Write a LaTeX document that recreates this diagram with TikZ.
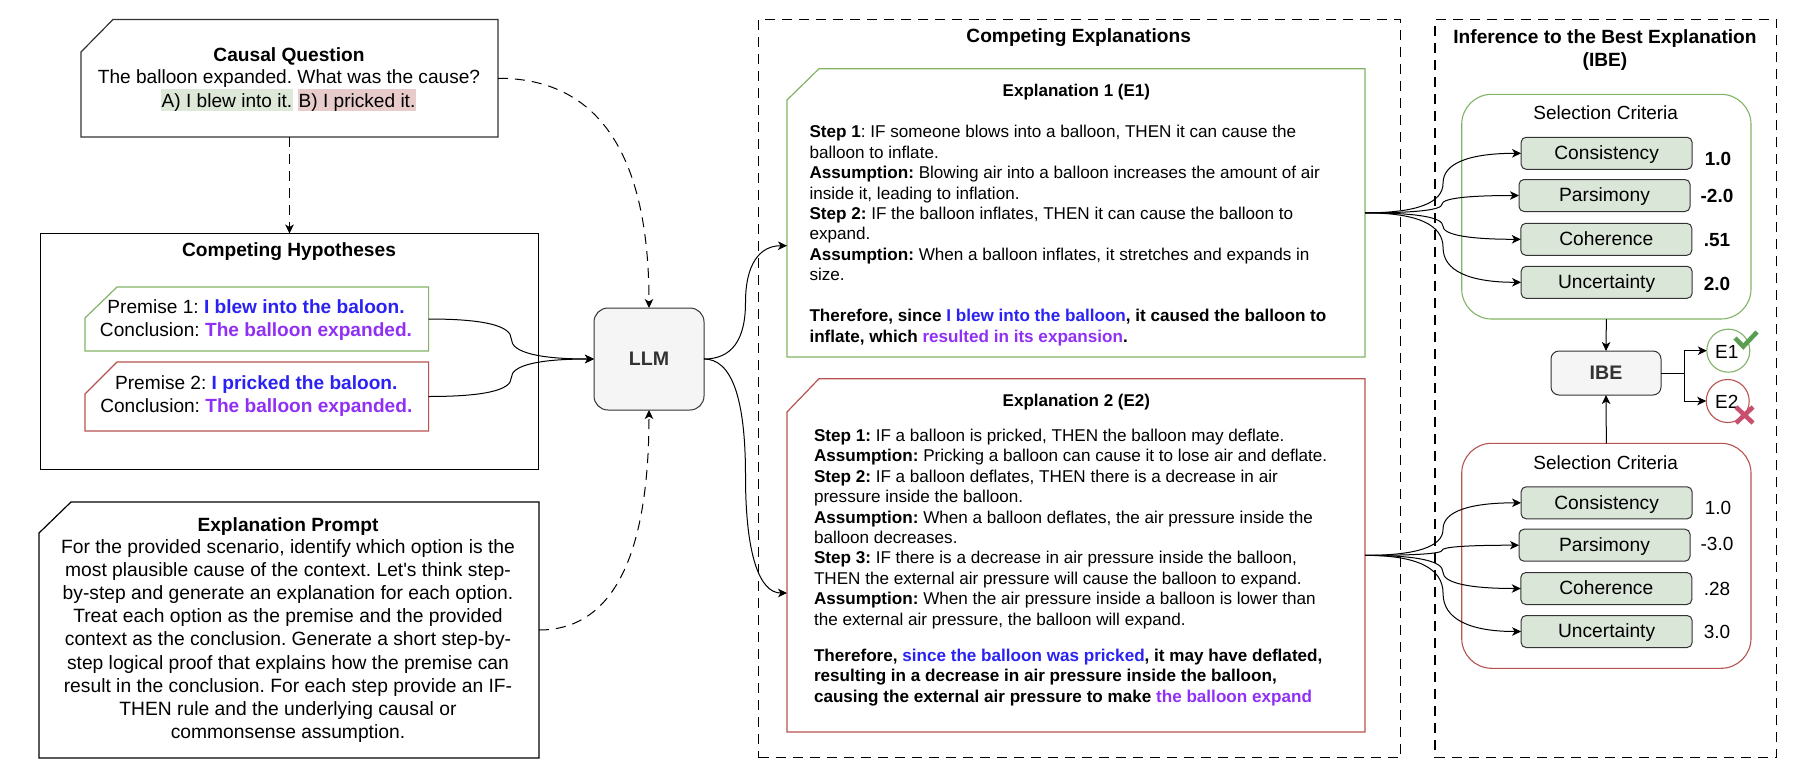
\documentclass[tikz,border=0pt]{standalone}
\usepackage{fontspec}
\setmainfont{Liberation Sans}
\usetikzlibrary{arrows.meta,calc}
\definecolor{gline}{HTML}{82B366}
\definecolor{rline}{HTML}{B85450}
\definecolor{gfill}{HTML}{DAE6D8}
\definecolor{hlg}{HTML}{DDE8D8}
\definecolor{hlr}{HTML}{E8CCCC}
\definecolor{blu}{HTML}{2A22F2}
\definecolor{pur}{HTML}{9030F5}
\definecolor{okc}{HTML}{5A9E4F}
\definecolor{noc}{HTML}{C8506E}
\newcommand{\blt}[1]{\textcolor{blu}{#1}}
\newcommand{\pst}[1]{\textcolor{pur}{#1}}
\tikzset{
  x=1pt,y=-1pt,
  every node/.style={inner sep=0pt,outer sep=0pt,text=black},
  tip/.style={-{Stealth[length=9pt,width=8.5pt,inset=2.5pt]}},
  conn/.style={tip,draw=black,line width=1pt},
  dashconn/.style={conn,dash pattern=on 10pt off 7pt},
  framebox/.style={draw=black,line width=1.3pt,dash pattern=on 10pt off 7pt},
  txt/.style={font=\fontsize{19.1}{23}\selectfont,align=center},
  ttl/.style={font=\fontsize{19.15}{23}\selectfont\bfseries,align=center},
  subt/.style={font=\fontsize{17}{20.4}\selectfont\bfseries,align=center},
  body/.style={font=\fontsize{17.1}{20.4}\selectfont,align=left,anchor=north west},
  crit/.style={draw=black!80,fill=gfill,rounded corners=5pt,line width=1pt,minimum width=171pt,minimum height=32pt,text height=15pt,text depth=2.5pt,font=\fontsize{19.2}{23}\selectfont},
  critbox/.style={draw=#1,line width=1.1pt,rounded corners=30pt},
  val/.style={font=\fontsize{19}{23}\selectfont},
  valb/.style={font=\fontsize{19}{23}\selectfont\bfseries},
  hl/.style={fill=#1,font=\fontsize{19.1}{23}\selectfont,text height=18.4pt,text depth=3pt},
  graybox/.style={draw=black!80,fill=black!4,line width=1pt,rounded corners=#1,font=\fontsize{19.6}{23}\selectfont\bfseries,text=black!80}
}
% name, x1,y1,x2,y2, options
\newcommand{\boxnode}[6]{%
  \pgfmathsetmacro\bw{#4-#2}\pgfmathsetmacro\bh{#5-#3}%
  \pgfmathsetmacro\bx{(#2+#4)/2}\pgfmathsetmacro\by{(#3+#5)/2}%
  \node[minimum width=\bw pt,minimum height=\bh pt,#6] (#1) at (\bx,\by) {};
}
% name, x1,y1,x2,y2, cutx,cuty, stroke
\newcommand{\cutbox}[8]{%
  \boxnode{#1}{#2}{#3}{#4}{#5}{}
  \draw[#8,line width=1.2pt,line join=miter] (#2,#7) -- (#6,#3) -- (#4,#3) -- (#4,#5) -- (#2,#5) -- cycle;
}
% true quadratic segment, from #1 to #3 with control point #2
\newcommand{\quadpart}[3]{.. controls ($(#1)!.667!(#2)$) and ($(#3)!.667!(#2)$) .. (#3)}
% draw.io curved connector through a mid point
\newcommand{\curvelink}[2]{%
  \coordinate (mm) at ($(#1)!.5!(#2)$);
  \coordinate (qa) at (mm|-#1);
  \coordinate (qb) at (mm|-#2);
  \draw[conn] (#1) \quadpart{#1}{qa}{mm} \quadpart{mm}{qb}{#2};
}
\begin{document}
\frenchspacing
\begin{tikzpicture}
\useasboundingbox (0,0) rectangle (1796,782);
\fill[white] (0,0) rectangle (1796,782);

% frames
\boxnode{ceframe}{758.6}{19.5}{1400.7}{757.7}{framebox}
\boxnode{ibeframe}{1435}{19.5}{1776.7}{757.7}{framebox}

% left column
\cutbox{cq}{81}{19.5}{498}{137}{113}{52}{black!80}
\node[ttl] (cqt) at (289,56) {Causal Question};
\node[txt] (cql) at (289,79) {The balloon expanded. What was the cause?};
\node[hl=hlg,minimum width=132pt] (cqa) at (227,100) {A) I blew into it.};
\node[hl=hlr,minimum width=118pt] (cqb) at (357,100) {B) I pricked it.};

\boxnode{ch}{40.5}{233.5}{538.5}{469.5}{draw=black,line width=1.2pt}
\node[ttl] (cht) at (289,252) {Competing Hypotheses};
\cutbox{p1}{85}{287}{428.6}{351}{117}{318}{gline}
\cutbox{p2}{85}{362}{428.6}{431}{117}{394}{rline}
\node[txt] (p1t) at (256,320) {Premise 1: \textbf{\blt{I blew into the baloon.}}\\Conclusion: \textbf{\pst{The balloon expanded.}}};
\node[txt] (p2t) at (256.3,396.5) {Premise 2: \textbf{\blt{I pricked the baloon.}}\\Conclusion: \textbf{\pst{The balloon expanded.}}};

\cutbox{ep}{39}{502}{539}{758}{71}{533}{black}
\node[ttl] (ept) at (288,527) {Explanation Prompt};
\node[font=\fontsize{19.25}{23.1}\selectfont,align=center] (epb) at (288,641) {For the provided scenario, identify which option is the\\most plausible cause of the context. Let\textquotesingle s think step-\\by-step and generate an explanation for each option.\\Treat each option as the premise and the provided\\context as the conclusion. Generate a short step-by-\\step logical proof that explains how the premise can\\result in the conclusion. For each step provide an IF-\\THEN rule and the underlying causal or\\commonsense assumption.};

% LLM
\node[graybox=14pt,minimum width=110pt,minimum height=102pt] (llm) at (649,359) {LLM};

% explanations
\node[ttl] (cet) at (1078.7,38) {Competing Explanations};
\cutbox{e1}{787}{68.7}{1365}{357}{819}{100}{gline}
\node[subt] (e1t) at (1076.4,92) {Explanation 1 (E1)};
\node[body] (e1b) at (809.5,125.5) {\textbf{Step 1}: IF someone blows into a balloon, THEN it can cause the\\balloon to inflate.\\\textbf{Assumption:} Blowing air into a balloon increases the amount of air\\inside it, leading to inflation.\\\textbf{Step 2:} IF the balloon inflates, THEN it can cause the balloon to\\expand.\\\textbf{Assumption:} When a balloon inflates, it stretches and expands in\\size.\\[20.9pt]\textbf{Therefore, since \blt{I blew into the balloon}, it caused the balloon to}\\\textbf{inflate, which \pst{resulted in its expansion}.}};

\cutbox{e2}{787}{378.7}{1365}{732}{819}{412}{rline}
\node[subt] (e2t) at (1076.4,402.5) {Explanation 2 (E2)};
\node[body] (e2b) at (814,429) {\textbf{Step 1:} IF a balloon is pricked, THEN the balloon may deflate.\\\textbf{Assumption:} Pricking a balloon can cause it to lose air and deflate.\\\textbf{Step 2:} IF a balloon deflates, THEN there is a decrease in air\\pressure inside the balloon.\\\textbf{Assumption:} When a balloon deflates, the air pressure inside the\\balloon decreases.\\\textbf{Step 3:} IF there is a decrease in air pressure inside the balloon,\\THEN the external air pressure will cause the balloon to expand.\\\textbf{Assumption:} When the air pressure inside a balloon is lower than\\the external air pressure, the balloon will expand.};
\node[body] (e2c) at (814,649) {\textbf{Therefore, \blt{since the balloon was pricked}, it may have deflated,}\\\textbf{resulting in a decrease in air pressure inside the balloon,}\\\textbf{causing the external air pressure to make \pst{the balloon expand}}};

% IBE column
\node[ttl] (ibet) at (1605,50) {Inference to the Best Explanation\\(IBE)};
\boxnode{gbox}{1461.7}{94.3}{1751}{319}{critbox=gline}
\boxnode{rbox}{1461.7}{443.3}{1751}{668.3}{critbox=rline}
\node[val] (gst) at (1605.7,113) {Selection Criteria};
\node[val] (rst) at (1605.7,462.5) {Selection Criteria};

\node[crit] (g1) at (1606.6,153.3) {Consistency};
\node[crit] (g2) at (1604.5,195.5) {Parsimony};
\node[crit] (g3) at (1606.3,239.3) {Coherence};
\node[crit] (g4) at (1606.6,282.3) {Uncertainty};
\node[crit] (r1) at (1606.6,502.8) {Consistency};
\node[crit] (r2) at (1604.5,545.2) {Parsimony};
\node[crit] (r3) at (1606.3,588.5) {Coherence};
\node[crit] (r4) at (1606.6,631.5) {Uncertainty};

\node[valb] (gv1) at (1718,159) {1.0};
\node[valb] (gv2) at (1717,196) {-2.0};
\node[valb] (gv3) at (1717,240) {.51};
\node[valb] (gv4) at (1717,283.5) {2.0};
\node[val] (rv1) at (1718,508) {1.0};
\node[val] (rv2) at (1717,544) {-3.0};
\node[val] (rv3) at (1717,588.7) {.28};
\node[val] (rv4) at (1717,632) {3.0};

\node[graybox=8pt,minimum width=110pt,minimum height=44pt] (ibe) at (1606,373) {IBE};
\node[circle,draw=gline,line width=1.1pt,minimum size=43pt] (oe1) at (1728.3,350.7) {};
\node[circle,draw=rline,line width=1.1pt,minimum size=43pt] (oe2) at (1727.7,401) {};
\node[val] (oe1t) at (1726.7,351.5) {E1};
\node[val] (oe2t) at (1726.7,401.5) {E2};
\draw[okc,line width=4.5pt] (1735,338) -- (1743.3,346.5) -- (1757,332);
\draw[noc,line width=4.5pt] (1736,407) -- (1753,423) (1753,407) -- (1736,423);

% connectors
\coordinate (q1) at (llm.north|-cq.east);
\coordinate (q2) at (llm.south|-ep.east);
\draw[dashconn] (cq.south) -- (cq.south|-ch.north);
\draw[dashconn] (cq.east) \quadpart{cq.east}{q1}{llm.north};
\draw[dashconn] (ep.east) \quadpart{ep.east}{q2}{llm.south};
\curvelink{p1.east}{llm.west}
\curvelink{p2.east}{llm.west}
\coordinate (e1in) at (787,245.7);
\coordinate (e2in) at (787,593);
\curvelink{llm.east}{e1in}
\curvelink{llm.east}{e2in}
\foreach \n in {g1,g2,g3,g4}{\curvelink{e1.east}{\n.west}}
\foreach \n in {r1,r2,r3,r4}{\curvelink{e2.east}{\n.west}}
\draw[conn] (gbox.south) -- (ibe.north);
\draw[conn] (rbox.north) -- (ibe.south);
\draw[conn] (ibe.east) -- (1684,373) |- (oe1.west);
\draw[conn] (ibe.east) -- (1684,373) |- (oe2.west);
\end{tikzpicture}
\end{document}
